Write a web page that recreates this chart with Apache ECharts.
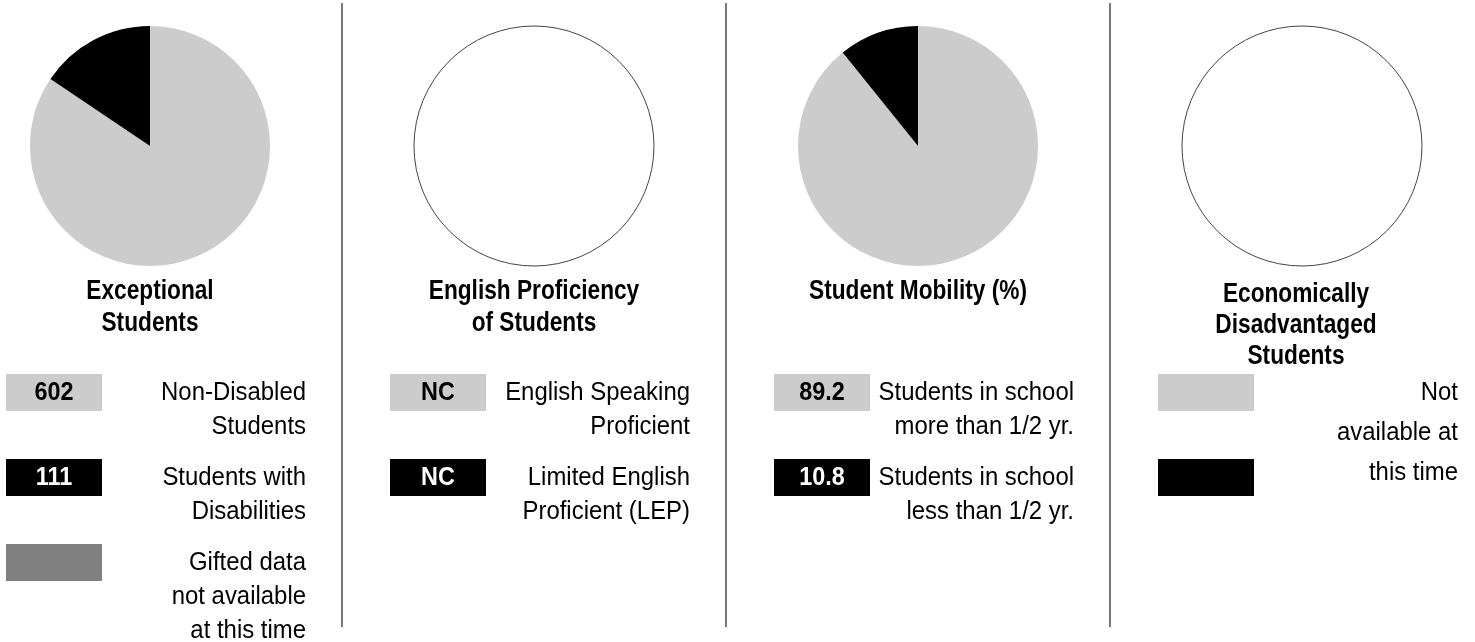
<!DOCTYPE html>
<html>
<head>
<meta charset="utf-8">
<script src="https://cdn.jsdelivr.net/npm/echarts@6/dist/echarts.min.js"></script>
<style>
  html, body { margin: 0; padding: 0; background: #fff; }
  #main { width: 1475px; height: 642px; }
</style>
</head>
<body>
<div id="main"></div>
<script>
  //各个面板的数据
  const exceptionalNames = ['Non-Disabled\nStudents', 'Students with\nDisabilities', 'Gifted data\nnot available\nat this time']
  const exceptionalValues = [602, 111, null]
  const englishNames = ['English Speaking\nProficient', 'Limited English\nProficient (LEP)']
  const englishValues = ['NC', 'NC']
  const mobilityNames = ['Students in school\nmore than 1/2 yr.', 'Students in school\nless than 1/2 yr.']
  const mobilityValues = [89.2, 10.8]
  const economicNames = ['Not\navailable at\nthis time']
  const economicValues = [null, null]
  const panelTitles = ['Exceptional\nStudents', 'English Proficiency\nof Students', 'Student Mobility (%)', 'Economically\nDisadvantaged\nStudents']

  //颜色：浅灰、黑、深灰
  const sliceColors = ['#cccccc', '#000000', '#808080']
  const boxTextColors = ['#000000', '#ffffff', '#000000']

  //没有窄体字，用 Liberation Sans 横向压缩来模拟
  const face = '"Liberation Sans", Arial, sans-serif'

  const panels = [
    { cx: 150, names: exceptionalNames, values: exceptionalValues, titleX: 150, titleTop: 276, titleLh: 32 },
    { cx: 534, names: englishNames, values: englishValues, titleX: 534, titleTop: 276, titleLh: 32 },
    { cx: 918, names: mobilityNames, values: mobilityValues, titleX: 918, titleTop: 276, titleLh: 32 },
    { cx: 1302, names: economicNames, values: economicValues, titleX: 1296, titleTop: 279, titleLh: 31 }
  ]

  const chart = echarts.init(document.getElementById('main'))

  //饼图：只画有数值的扇区，没有数据时显示空圆
  const series = panels.map(p => {
    const data = []
    p.values.forEach((v, i) => {
      if (typeof v === 'number') {
        data.push({ name: p.names[i] || '', value: v, itemStyle: { color: sliceColors[i] } })
      }
    })
    return {
      type: 'pie',
      center: [p.cx, 146],
      radius: [0, 120],
      startAngle: 90,
      clockwise: true,
      silent: true,
      animation: false,
      label: { show: false },
      labelLine: { show: false },
      emphasis: { disabled: true },
      itemStyle: { borderWidth: 0 },
      showEmptyCircle: true,
      emptyCircleStyle: { color: '#ffffff', borderColor: '#444444', borderWidth: 1 },
      data: data
    }
  })

  const elements = []

  //文字元素（带横向缩放）
  function textEl(x, y, text, font, align, vAlign, lh, sx, fill) {
    return {
      type: 'text',
      x: x,
      y: y,
      scaleX: sx,
      silent: true,
      style: {
        x: 0,
        y: 0,
        text: text,
        font: font,
        fill: fill || '#000',
        textAlign: align,
        textVerticalAlign: vAlign,
        lineHeight: lh
      }
    }
  }

  //分隔线
  ;[342, 726, 1110].forEach(x => {
    elements.push({
      type: 'line',
      shape: { x1: x, y1: 3, x2: x, y2: 627 },
      style: { stroke: '#777777', lineWidth: 2 },
      silent: true
    })
  })

  panels.forEach((p, pi) => {
    //标题
    elements.push(textEl(p.titleX, p.titleTop, panelTitles[pi], 'bold 27px ' + face, 'center', 'top', p.titleLh, 0.84))
    //图例方块和数值
    p.values.forEach((v, i) => {
      const top = 374 + i * 85
      elements.push({
        type: 'rect',
        shape: { x: p.cx - 144, y: top, width: 96, height: 37 },
        style: { fill: sliceColors[i] },
        silent: true
      })
      if (v !== null) {
        elements.push(textEl(p.cx - 96, top + 19, String(v), 'bold 26px ' + face, 'center', 'middle', 26, 0.9, boxTextColors[i]))
      }
    })
    //说明文字
    p.names.forEach((n, i) => {
      const single = p.names.length === 1
      elements.push(textEl(p.cx + 156, single ? 373 : 376 + i * 85, n, '26px ' + face, 'right', 'top', single ? 40 : 34, 0.92))
    })
  })

  chart.setOption({
    backgroundColor: '#ffffff',
    animation: false,
    series: series,
    graphic: { elements: elements }
  })
</script>
</body>
</html>
